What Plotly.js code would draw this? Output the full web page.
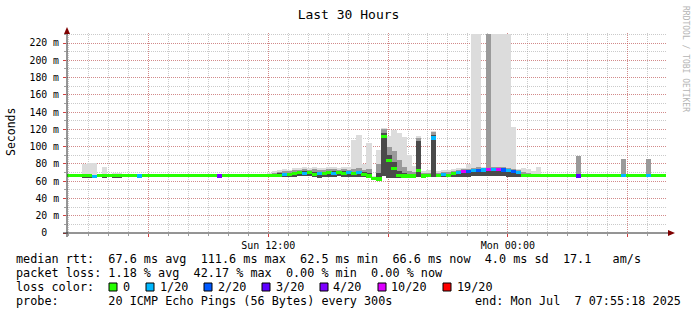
<!DOCTYPE html>
<html><head><meta charset="utf-8">
<script src="https://cdn.plot.ly/plotly-3.0.1.min.js"></script>
<style>html,body{margin:0;padding:0;background:#fff;}#chart{width:697px;height:315px;}</style>
</head><body><div id="chart"></div>
<script>
// ---- data: 15-minute slots over 30 hours (Sun 01:55:18 -> Mon 07:55:18) ----
const startTime = Date.UTC(2025, 6, 6, 1, 55, 18);
const slotMs = 900000;
const slotCount = 120;

// median rtt (ms)
const median = [
 66.2,66.2,66.2,66.2,66.2,65.5,66.2,66.2,66.2,66.2,
 66.2,66.2,66.2,66.2,66,66.2,66.2,66.2,66.2,66.2,
 66.2,66.2,66.2,66.2,66.2,66.2,66.2,66.2,66.2,66.2,
 66,66.2,66.2,66.2,66.2,66.2,66.2,66.2,66.2,66.2,
 66.2,66.5,67,68,68,69,70,69,70,68,
 69,69,70,69,70,69,70,69,70,68,
 66,63,62.5,111.6,84,75,67,66,66,66,
 72,66,66.5,110,67,68,67,69,70,71,
 71,72,72,73,74,74,74,73,72,71,
 70,67,66.5,66.3,66.3,66.3,66.3,66.3,66.3,66.3,
 66.3,66.3,66,66.3,66.3,66.3,66.3,66.3,66.3,66.3,
 66.3,66.3,66.3,66.3,66.3,66.3,66.3,66.3,66.3,66.3
];
// lost pings out of 20
const lossCount = [
 0,0,0,0,0,1,0,0,0,0,
 0,0,0,0,1,0,0,0,0,0,
 0,0,0,0,0,0,0,0,0,0,
 4,0,0,0,0,0,0,0,0,0,
 0,0,0,1,0,0,0,1,0,0,
 1,0,0,1,0,0,1,0,1,0,
 0,0,0,0,0,0,0,0,0,0,
 0,0,0,1,0,1,0,0,1,10,
 2,1,2,1,10,1,10,2,1,2,
 1,0,0,0,0,0,0,0,0,0,
 0,0,3,0,0,0,0,0,0,0,
 0,1,0,0,0,0,1,0,0,0
];
// smoke: bottom of the ping spread (ms)
const smokeLow = [
 65,65,65,64,64,64,65,64,65,64,
 64,65,65,65,65,65,65,65,65,65,
 65,65,65,65,65,65,65,65,65,65,
 65,65,65,65,65,65,65,65,65,65,
 65,65,65,65,65,65,66,66,66,65,
 64,65,65,65,66,65,65,65,65,65,
 64,61,61,66,64,64,64,64,65,65,
 65,65,65,65,65,65,65,65,65,65,
 65,66,66,66,66,66,66,66,65,65,
 65,65,65,65,65,65,65,65,65,65,
 65,65,65,65,65,65,65,65,65,65,
 65,65,65,65,65,65,65,65,65,65
];
// smoke: top of the light outer spread (ms)
const smokeHigh = [
 66,66,66,80,81,81,66,76,66,70,
 70,66,66,66,66,66,66,66,66,66,
 66,66,66,66,66,66,66,66,66,66,
 66,66,66,66,66,66,66,66,66,66,
 70,72,73,74,73,75,75,76,75,76,
 75,75,76,76,75,76,76,108,113,80,
 104,66,96,122,112,119,116,111,90,78,
 112,72,73,118,72,73,73,74,75,75,
 80,231,231,76,231,231,231,231,231,123,
 74,75,74,72,76,66,66,66,66,66,
 66,66,89,66,66,66,66,66,66,66,
 66,86,66,66,66,66,86,66,66,66
];
// smoke: top of the medium band (ms)
const smokeMid = [
 66,66,66,66,66,66,66,66,66,66,
 66,66,66,66,66,66,66,66,66,66,
 66,66,66,66,66,66,66,66,66,66,
 66,66,66,66,66,66,66,66,66,66,
 68,70,71,72,72,73,73,74,73,74,
 73,73,74,74,73,74,73,74,75,73,
 74,65,80,120,100,95,85,76,72,71,
 110,70,70,117,70,71,71,72,73,74,
 74,75,76,75,231,76,76,76,75,74,
 73,71,70,68,66,66,66,66,66,66,
 66,66,89,66,66,66,66,66,66,66,
 66,86,66,66,66,66,86,66,66,66
];
// smoke: top of the dark core (ms)
const smokeDark = [
 66,66,66,66,66,66,66,66,66,66,
 66,66,66,66,66,66,66,66,66,66,
 66,66,66,66,66,66,66,66,66,66,
 66,66,66,66,66,66,66,66,66,66,
 67,68,69,70,70,71,72,72,72,71,
 71,71,72,72,72,72,72,71,72,71,
 70,64,70,116,90,82,72,70,68,68,
 106,68,68,114,68,69,68,70,71,72,
 72,73,73,74,75,75,75,74,73,72,
 71,68,67,66,66,66,66,66,66,66,
 66,66,68,66,66,66,66,66,66,66,
 66,66,66,66,66,66,66,66,66,66
];

const lossLevels = [0, 1, 2, 3, 4, 10, 19];
const lossColors = ['#26ff00', '#00b8ff', '#0059ff', '#5e00ff', '#7e00ff', '#dd00ff', '#ff0000'];
const lossLabels = ['0', '1/20', '2/20', '3/20', '4/20', '10/20', '19/20'];

const yTickVals = [0,20,40,60,80,100,120,140,160,180,200,220];
const yTickText = ['0  ','20 m','40 m','60 m','80 m','100 m','120 m','140 m','160 m','180 m','200 m','220 m'];
const xTickText = ['', 'Sun 12:00', '', 'Mon 00:00', ''];

const rttStats = ['67.6 ms avg', '111.6 ms max', '62.5 ms min', '66.6 ms now', '4.0 ms sd', '17.1   am/s'];
const lossStats = ['1.18 % avg', '42.17 % max', '0.00 % min', '0.00 % now'];
const probeText = '20 ICMP Echo Pings (56 Bytes) every 300s';
const endText = 'end: Mon Jul  7 07:55:18 2025';

// ---- build ----
const times = [];
for (let i = 0; i < slotCount; i++) times.push(startTime + (i + 0.5) * slotMs);
const endTime = startTime + slotCount * slotMs;

function lossColor(n) {
  let c = lossColors[0];
  for (let k = 0; k < lossLevels.length; k++) if (n >= lossLevels[k]) c = lossColors[k];
  return c;
}
const barW = slotMs * 1.03;
function smokeTrace(top, color) {
  return {type:'bar', x:times, base:smokeLow, y:top.map((v,i)=>v-smokeLow[i]),
    width:barW, marker:{color:color, line:{width:0}}, hoverinfo:'skip', showlegend:false};
}
const medBand = 3.6;
const traces = [
  smokeTrace(smokeHigh, '#dcdcdc'),
  smokeTrace(smokeMid, '#9a9a9a'),
  smokeTrace(smokeDark, '#4a4a4a'),
  {type:'bar', x:times, base:median.map(v=>v-medBand/2), y:median.map(()=>medBand),
   width:barW, marker:{color:lossCount.map(lossColor), line:{width:0}}, hoverinfo:'skip', showlegend:false}
];

const PL = 67, PR = 666, PT = 33, PB = 233;
const px = x => (x - PL) / (PR - PL);
const py = y => (PB - y) / (PB - PT);
const mono = 'DejaVu Sans Mono';
const nb = s => s.replace(/ /g, '\u00a0');

const ann = [];
function txt(t, x, y, anchor, size, color, angle) {
  ann.push({text:nb(t), xref:'paper', yref:'paper', x:px(x), y:py(y), xanchor:anchor||'left', yanchor:'middle',
    showarrow:false, borderpad:0, borderwidth:0, textangle:angle||0,
    font:{family:mono, size:size||11.8, color:color||'#000'}});
}
const lineY = [259, 273, 287, 301];
txt('median rtt:  ' + rttStats.join('  '), 16, lineY[0]);
txt('packet loss: ' + lossStats.join('  '), 16, lineY[1]);
txt('loss color:', 16, lineY[2]);
txt('probe:       ' + probeText, 16, lineY[3]);
txt(endText, 681, lineY[3], 'right');

const shapes = [];
const sqX = [109, 146, 204, 262, 320, 378, 443];
const lblX = [123, 160, 218, 276, 333, 391, 457];
lossColors.forEach((c,i)=>{
  shapes.push({type:'rect', xref:'paper', yref:'paper', x0:px(sqX[i]), x1:px(sqX[i]+8),
    y0:py(lineY[2]+4), y1:py(lineY[2]-4), fillcolor:c, line:{color:'#000', width:1}});
  txt(lossLabels[i], lblX[i], lineY[2]);
});

txt('Seconds', 11, 132, 'center', 11.5, '#000', -90);
txt('RRDTOOL / TOBI OETIKER', 686, 59, 'center', 8, '#b4b4b4', 90);

// axes lines and arrows
shapes.push({type:'line', xref:'paper', yref:'paper', x0:px(63), x1:px(669), y0:0, y1:0, line:{color:'#2a2a2a', width:1}});
shapes.push({type:'line', xref:'paper', yref:'paper', x0:0, x1:0, y0:py(237), y1:py(30), line:{color:'#2a2a2a', width:1}});
shapes.push({type:'path', xref:'paper', yref:'paper', xsizemode:'pixel', ysizemode:'pixel',
  xanchor:px(668), yanchor:0, path:'M0,-3 L7,0 L0,3 Z', fillcolor:'#7f0000', line:{width:0}});
shapes.push({type:'path', xref:'paper', yref:'paper', xsizemode:'pixel', ysizemode:'pixel',
  xanchor:0, yanchor:py(34), path:'M-3,0 L3,0 L0,7 Z', fillcolor:'#7f0000', line:{width:0}});

const hour = 3600000;
const sixHourTicks = [];
for (let h = Date.UTC(2025,6,6,6); h < endTime; h += 6*hour) sixHourTicks.push(h);

const gridMinor = 'rgba(150,150,150,0.5)';
const gridMajor = 'rgba(220,60,60,0.45)';

const layout = {
  width:697, height:315,
  margin:{l:PL, r:697-PR, t:PT, b:315-PB, pad:0},
  paper_bgcolor:'#fff', plot_bgcolor:'#fff',
  barmode:'overlay', bargap:0,
  showlegend:false,
  title:{text:'Last 30 Hours', x:0.5, xref:'container', xanchor:'center', y:1-14/315, yref:'container', yanchor:'middle',
    font:{family:mono, size:13, color:'#000'}},
  xaxis:{type:'date', range:[startTime, endTime], tickmode:'array', tickvals:sixHourTicks, ticktext:xTickText,
    showgrid:true, gridcolor:gridMajor, griddash:'1px,1px', gridwidth:1,
    ticks:'outside', ticklen:3, tickcolor:'#d04040', tickwidth:1,
    tickfont:{family:mono, size:10, color:'#000'}, ticklabelstandoff:0,
    zeroline:false, showline:false, fixedrange:true,
    minor:{tickmode:'linear', tick0:Date.UTC(2025,6,6,0), dtick:hour, showgrid:true, gridcolor:gridMinor,
      griddash:'1px,1px', gridwidth:1, ticks:'outside', ticklen:2, tickcolor:'#a0a0a0'}},
  yaxis:{range:[0, 231.6], tickmode:'array', tickvals:yTickVals, ticktext:yTickText.map(nb),
    showgrid:true, gridcolor:gridMajor, griddash:'1px,1px', gridwidth:1,
    ticks:'outside', ticklen:3, tickcolor:'#d04040', tickwidth:1,
    tickfont:{family:mono, size:9.8, color:'#000'}, ticklabelstandoff:2,
    zeroline:false, showline:false, fixedrange:true,
    minor:{tickmode:'linear', tick0:0, dtick:10, showgrid:true, gridcolor:gridMinor,
      griddash:'1px,1px', gridwidth:1, ticks:'outside', ticklen:2, tickcolor:'#a0a0a0'}},
  annotations:ann,
  shapes:shapes
};
Plotly.newPlot('chart', traces, layout, {displayModeBar:false, staticPlot:true});
</script></body></html>
